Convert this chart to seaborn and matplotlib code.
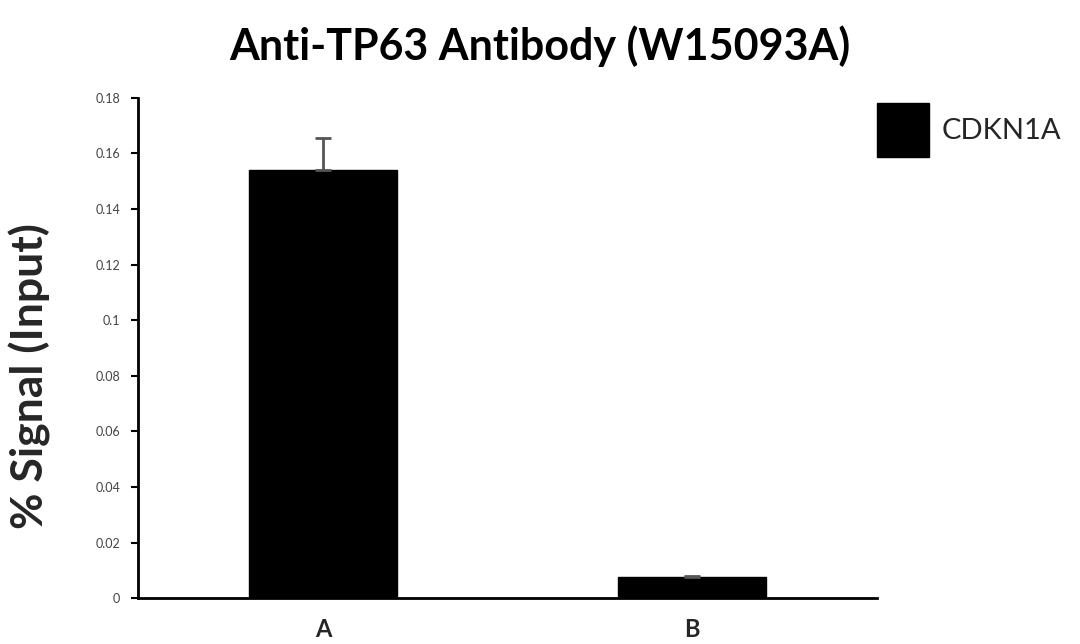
import pandas as pd
import matplotlib
matplotlib.use("Agg")
import matplotlib.pyplot as plt
import seaborn as sns

# values
samples = ["A", "B"]
signal = [0.154, 0.0075]
err_up = [0.0115, 0.0005]
series_name = "CDKN1A"

df = pd.DataFrame({"sample": samples, "signal": signal, "target": series_name})

sns.set_style("white")
plt.rcParams["font.family"] = ["Lato", "DejaVu Sans"]

fig = plt.figure(figsize=(10.8, 6.44), dpi=100)
ax = fig.add_axes([0.128, 0.071, 0.684, 0.777])

sns.barplot(data=df, x="sample", y="signal", hue="target", palette=["black"],
            width=0.4, errorbar=None, ax=ax, edgecolor="black")

# upper-only error bars
ax.errorbar(range(len(samples)), signal, yerr=[[0] * len(samples), err_up],
            fmt="none", ecolor="#555555", elinewidth=2, capsize=6, capthick=2)

ax.set_xlim(-0.5, 1.5)
ax.set_ylim(0, 0.18)
ax.set_yticks([0, 0.02, 0.04, 0.06, 0.08, 0.1, 0.12, 0.14, 0.16, 0.18])
ax.set_yticklabels(["0", "0.02", "0.04", "0.06", "0.08", "0.1", "0.12", "0.14", "0.16", "0.18"])
ax.tick_params(axis="y", direction="out", length=5, width=1.5, labelsize=9,
               labelcolor="#444444", color="black", left=True, pad=8)
ax.tick_params(axis="x", length=0, labelsize=17, pad=14)
for lbl in ax.get_xticklabels():
    lbl.set_fontweight("bold")

sns.despine(ax=ax)
ax.spines["left"].set_linewidth(2)
ax.spines["bottom"].set_linewidth(2)
ax.spines["left"].set_color("black")
ax.spines["bottom"].set_color("black")

ax.set_xlabel("")
ax.set_ylabel("% Signal (Input)", fontsize=32, fontweight="bold")
ax.yaxis.set_label_coords(-0.118, 0.445)

fig.suptitle("Anti-TP63 Antibody (W15093A)", fontsize=31, fontweight="bold",
             y=0.96, color="black")

ax.legend(loc="upper left", bbox_to_anchor=(1.0, 0.99), frameon=False,
          fontsize=21, handlelength=1.8, handleheight=2.5, handletextpad=0.4,
          borderpad=0, borderaxespad=0)

fig.savefig("out.png", dpi=100)
